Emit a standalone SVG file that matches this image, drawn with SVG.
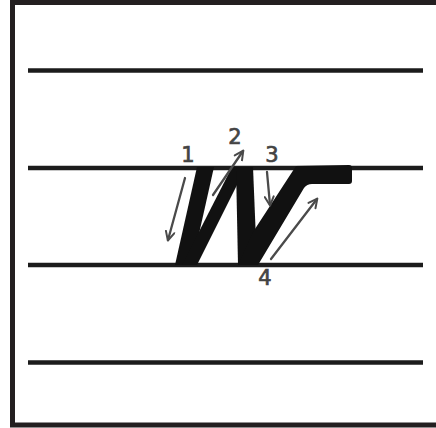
<svg xmlns="http://www.w3.org/2000/svg" width="436" height="428" viewBox="0 0 436 428">
  <style>
    .guide { stroke: #1c1c1c; stroke-width: 4.5; fill: none; }
    .ink { fill: #111111; }
    .arrow { stroke: #4a4a4a; stroke-width: 2.3; fill: none; stroke-linecap: round; marker-end: url(#head); }
    .num { font-family: "DejaVu Sans", "Liberation Sans", sans-serif; font-size: 21px; fill: #444444; stroke: #444444; stroke-width: 0.7; text-anchor: middle; }
  </style>
  <defs>
    <marker id="head" viewBox="0 0 10 10" refX="8.5" refY="5" markerWidth="4.8" markerHeight="4.8" orient="auto" markerUnits="strokeWidth">
      <path d="M1,1 L9,5 L1,9" fill="none" stroke="#4a4a4a" stroke-width="1.8" stroke-linejoin="round" stroke-linecap="round"/>
    </marker>
  </defs>
  <rect x="0" y="0" width="436" height="428" fill="#ffffff"/>
  <g id="frame">
    <rect x="12.5" y="2.5" width="440" height="422.5" fill="none" stroke="#231f20" stroke-width="5"/>
  </g>
  <g id="guidelines">
    <line class="guide" x1="28" y1="70.5" x2="423" y2="70.5"/>
    <line class="guide" x1="28" y1="168" x2="423" y2="168"/>
    <line class="guide" x1="28" y1="265" x2="423" y2="265"/>
    <line class="guide" x1="28" y1="362.5" x2="423" y2="362.5"/>
  </g>
  <g id="letter-W">
    <polygon class="ink" points="197,167 214,167 192,265 175,265"/>
    <polygon class="ink" points="232,167 246,167 197,265 182,265"/>
    <polygon class="ink" points="236,167 253,167 257,265 238,265"/>
    <path class="ink" d="M296,166 L349,165 Q352,165 352,168 L352,181 Q352,184 349,184 L312,184 Q307,184 304,188 L258,265 L238,265 L253,232 Z"/>
  </g>
  <g id="connectors">
    <line class="arrow" x1="185" y1="178" x2="168" y2="240"/>
    <line class="arrow" x1="213" y1="195" x2="243" y2="151"/>
    <line class="arrow" x1="267" y1="172" x2="270" y2="205"/>
    <line class="arrow" x1="271" y1="259" x2="317" y2="199"/>
  </g>
  <g id="label-1"><text class="num" x="188" y="162">1</text></g>
  <g id="label-2"><text class="num" x="235" y="144" font-size="18">2</text></g>
  <g id="label-3"><text class="num" x="272" y="162">3</text></g>
  <g id="label-4"><text class="num" x="265" y="285">4</text></g>
</svg>
